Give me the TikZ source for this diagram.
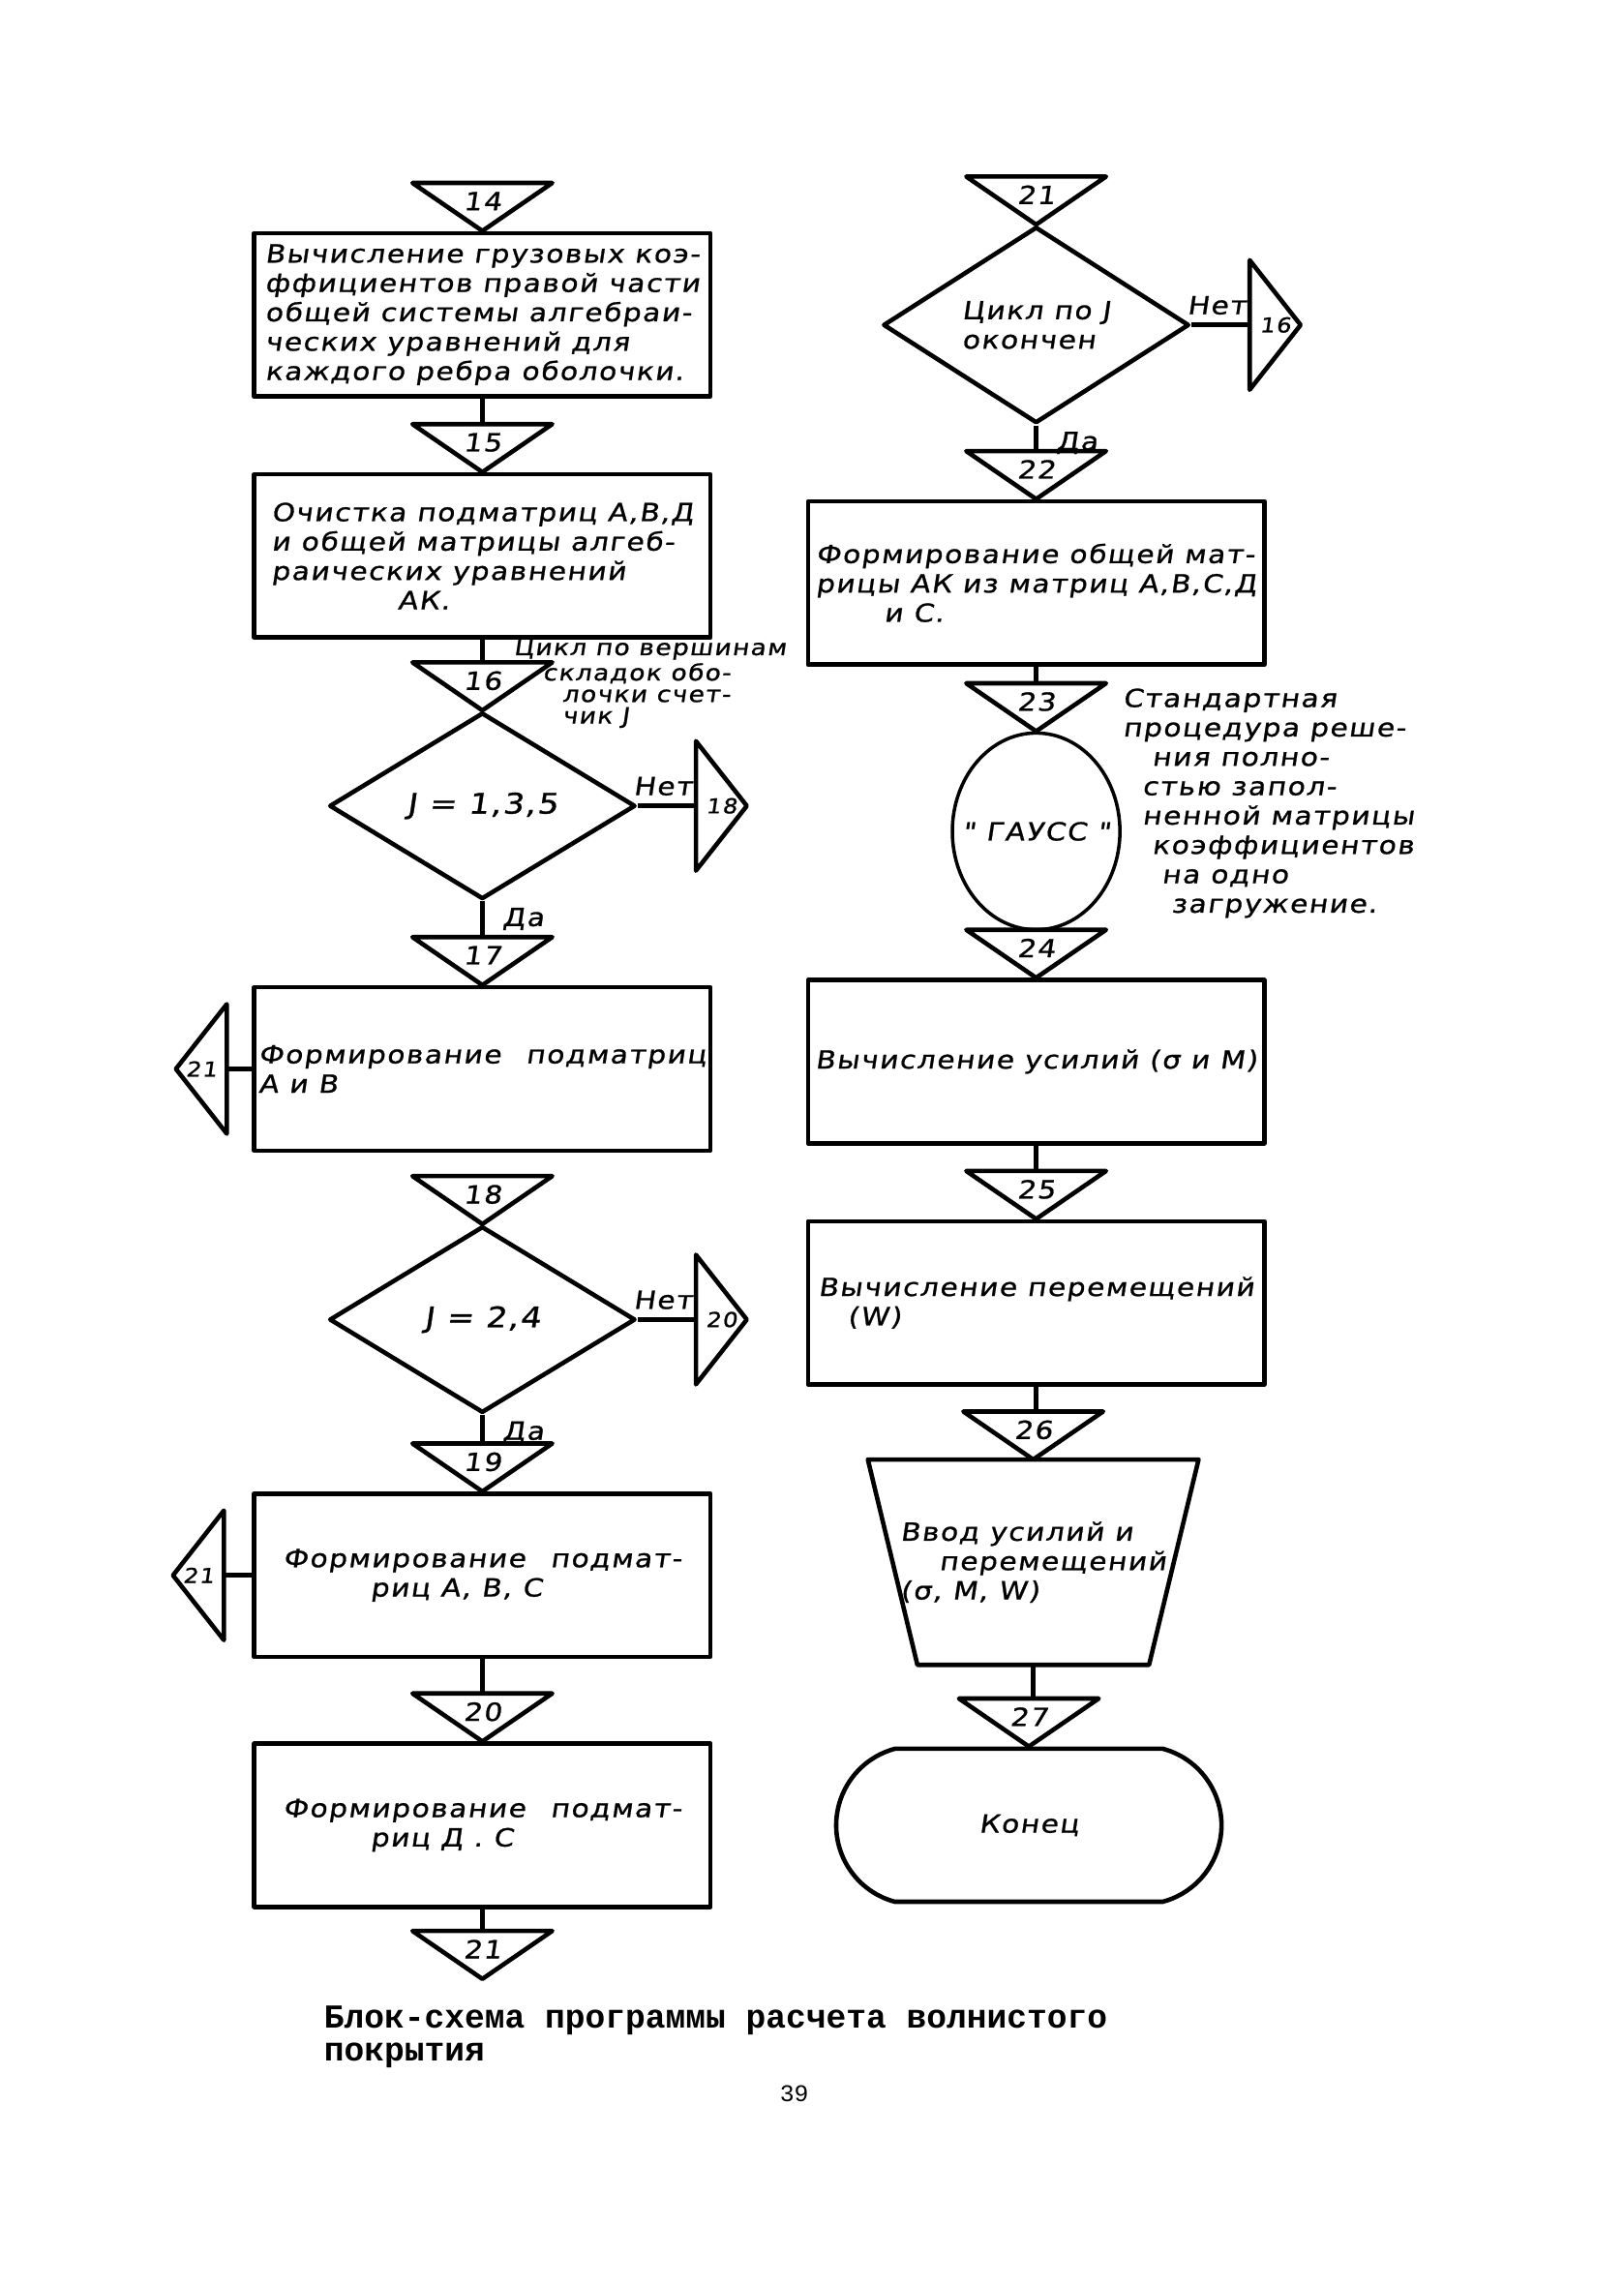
\documentclass[tikz,border=0pt]{standalone}
\usepackage{fontspec}
\setmainfont{DejaVu Sans}
\newfontfamily\hand[FakeSlant=0.15,FakeStretch=1.15,LetterSpace=6,FakeBold=1]{DejaVu Sans}
\newfontfamily\typer{Liberation Mono}
\usetikzlibrary{positioning, shapes.geometric, shapes.misc}
\newcommand{\handsz}{\fontsize{7.3pt}{8.6pt}\selectfont}
\newcommand{\notesz}{\fontsize{6.5pt}{6.3pt}\selectfont}
\newcommand{\bigsz}{\fontsize{8.3pt}{10pt}\selectfont}

\begin{document}
\begin{tikzpicture}[x=0.15mm, y=-0.15mm,
        outline/.style={line width=1.3pt, line join=round},
        proc/.style={draw, outline, minimum width=46.95mm, minimum height=16.8mm, inner sep=1pt, align=left, font=\hand\handsz},
        decision/.style={diamond, draw, outline, minimum width=31.5mm, minimum height=19.2mm, inner sep=0pt, align=left, font=\hand\handsz},
        gauss/.style={ellipse, draw, line width=1pt, minimum width=17.25mm, minimum height=20.25mm, inner sep=0pt, font=\hand\handsz},
        term/.style={rounded rectangle, rounded rectangle arc length=150, draw, outline, minimum width=42mm, minimum height=15.75mm, font=\hand\handsz},
        tridown/.style={minimum width=14.25mm, minimum height=4.8mm, inner sep=0pt, text depth=1.2mm, font=\hand\handsz,
            append after command={\pgfextra{\draw[outline] (\tikzlastnode.north west) -- (\tikzlastnode.north east) -- (\tikzlastnode.south) -- cycle;}}},
        offright/.style={minimum width=5.1mm, minimum height=13.2mm, inner sep=0pt, font=\hand\fontsize{6pt}{6pt}\selectfont,
            append after command={\pgfextra{\draw[outline] (\tikzlastnode.north west) -- (\tikzlastnode.east) -- (\tikzlastnode.south west) -- cycle;}}},
        offleft/.style={minimum width=5.1mm, minimum height=13.2mm, inner sep=0pt, font=\hand\fontsize{6pt}{6pt}\selectfont,
            append after command={\pgfextra{\draw[outline] (\tikzlastnode.north east) -- (\tikzlastnode.west) -- (\tikzlastnode.south east) -- cycle;}}},
        inout/.style={minimum width=33.9mm, minimum height=21mm, inner sep=0pt, align=left, font=\hand\handsz,
            append after command={\pgfextra{\draw[outline] (\tikzlastnode.north west) -- (\tikzlastnode.north east) -- ([xshift=-5.1mm]\tikzlastnode.south east) -- ([xshift=5.1mm]\tikzlastnode.south west) -- cycle;}}},
        lbl/.style={font=\hand\handsz, inner sep=0pt},
        note/.style={font=\hand\notesz, align=left, inner sep=0pt},
        caption/.style={font=\typer\bfseries\fontsize{9.8pt}{9.8pt}\selectfont, align=left, inner sep=0pt}]
        \useasboundingbox (0,0) rectangle (1114,1568);
        % left column
        \node[proc] (b14) at (331,216) {Вычисление грузовых коэ-\\ффициентов правой части\\общей системы алгебраи-\\ческих уравнений для\\каждого ребра оболочки.};
        \node[tridown, above=0pt of b14] (t14) {14};
        \node[proc] (b15) at (331,381.5) {Очистка подматриц А,В,Д\\и общей матрицы алгеб-\\раических уравнений\\\hspace*{13mm}АК.};
        \node[tridown, above=0pt of b15] (t15) {15};
        \node[decision, font=\hand\bigsz] (d16) at (331,553) {J = 1,3,5};
        \node[tridown, above=0pt of d16] (t16) {16};
        \node[offright, right=6mm of d16] (o18) {18};
        \node[note, anchor=north west] (n16) at (352,438) {Цикл по вершинам\\\hspace*{3mm}складок обо-\\\hspace*{5mm}лочки счет-\\\hspace*{5mm}чик J};
        \node[proc] (b17) at (331,733.5) {Формирование\quad подматриц\\А и В};
        \node[tridown, above=0pt of b17] (t17) {17};
        \node[offleft, left=2.6mm of b17] (o21a) {21};
        \node[decision, font=\hand\bigsz] (d18) at (331,905.5) {J = 2,4};
        \node[tridown, above=0pt of d18] (t18) {18};
        \node[offright, right=6mm of d18] (o20) {20};
        \node[proc] (b19) at (331,1081) {Формирование\quad подмат-\\\hspace*{9mm}риц А, В, С};
        \node[tridown, above=0pt of b19] (t19) {19};
        \node[offleft, left=2.9mm of b19] (o21b) {21};
        \node[proc] (b20) at (331,1252.5) {Формирование\quad подмат-\\\hspace*{9mm}риц Д . С};
        \node[tridown, above=0pt of b20] (t20) {20};
        \node[tridown, below=2.25mm of b20] (t21) {21};
        % right column
        \node[decision] (d21) at (711,223) {Цикл по J\\окончен};
        \node[tridown, above=0pt of d21] (t21r) {21};
        \node[offright, right=6mm of d21] (o16) {16};
        \node[proc] (b22) at (711,400) {Формирование общей мат-\\рицы АК из матриц А,В,С,Д\\\hspace*{7mm}и С.};
        \node[tridown, above=0pt of b22] (t22) {22};
        \node[gauss] (g23) at (711,570.5) {\makebox[9mm]{"\ ГАУСС\ "}};
        \node[tridown, above=0pt of g23] (t23) {23};
        \node[note, font=\hand\handsz, anchor=north west] (n23) at (770,472) {Стандартная\\процедура реше-\\\hspace*{3mm}ния полно-\\\hspace*{2mm}стью запол-\\\hspace*{2mm}ненной матрицы\\\hspace*{3mm}коэффициентов\\\hspace*{4mm}на одно\\\hspace*{5mm}загружение.};
        \node[proc] (b24) at (711,728.5) {Вычисление усилий (σ и M)};
        \node[tridown, above=0pt of b24] (t24) {24};
        \node[proc] (b25) at (711,894) {Вычисление перемещений\\\hspace*{3mm}(W)};
        \node[tridown, above=0pt of b25] (t25) {25};
        \node[inout] (io26) at (709,1072) {Ввод усилий и\\\hspace*{4mm}перемещений\\(σ, M, W)};
        \node[tridown, above=0pt of io26] (t26) {26};
        \node[term] (kon) at (706,1252.5) {Конец};
        \node[tridown, above=0pt of kon] (t27) {27};
        % yes / no
        \node[lbl, above left=1mm and 0.3mm of o18.west] {Нет};
        \node[lbl, below right=0.6mm and 2mm of d16.south] {Да};
        \node[lbl, above left=1mm and 0.3mm of o20.west] {Нет};
        \node[lbl, below right=0.6mm and 2mm of d18.south] {Да};
        \node[lbl, above left=1mm and 0.3mm of o16.west] {Нет};
        \node[lbl, below right=0.6mm and 2mm of d21.south] {Да};
        % links
        \foreach \a/\b in {b14/t15, b15/t16, d16/t17, d18/t19, b19/t20, b20/t21,
                           d21/t22, b22/t23, g23/t24, b24/t25, b25/t26, io26/t27}
          \draw[outline] (\a.south) -- (\a.south |- \b.north);
        \draw[outline] (d16.east) -- (o18.west);
        \draw[outline] (d18.east) -- (o20.west);
        \draw[outline] (d21.east) -- (o16.west);
        \draw[outline] (b17.west) -- (o21a.east);
        \draw[outline] (b19.west) -- (o21b.east);
        % caption
        \node[caption, anchor=north west] (cap) at (222,1376) {Блок-схема программы расчета волнистого\\покрытия};
        \node[font=\typer\fontsize{7pt}{7pt}\selectfont] (pg) at (545,1437) {39};
      \end{tikzpicture}
\end{document}
